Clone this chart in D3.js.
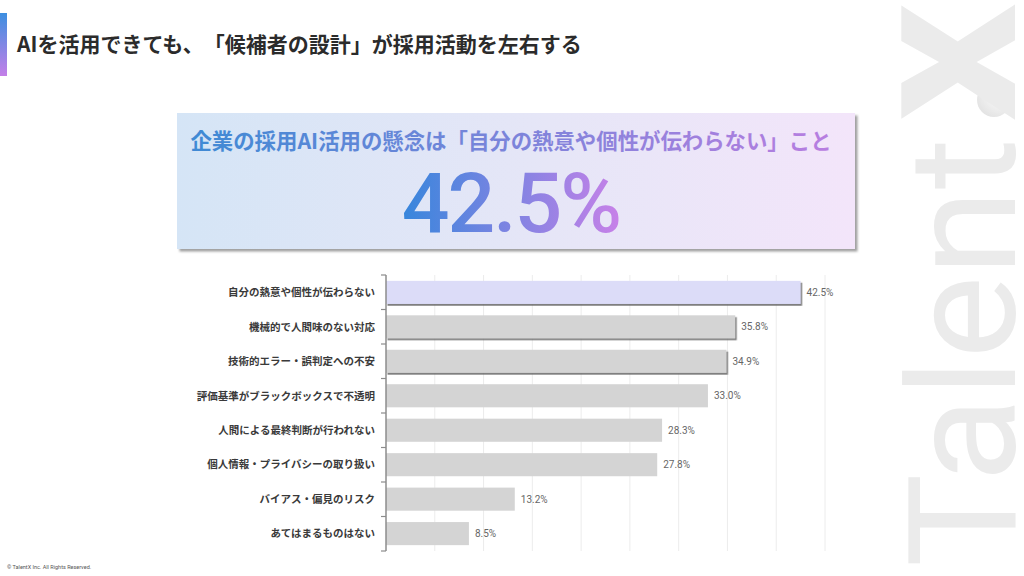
<!DOCTYPE html>
<html>
<head>
<meta charset="utf-8">
<script src="https://cdn.jsdelivr.net/npm/d3@7"></script>
<style>
  html, body { margin: 0; padding: 0; background: #fff; }
  svg { display: block; }
  .jp { font-family: "Noto Sans CJK JP", "Noto Sans", sans-serif; text-spacing-trim: space-all; }
</style>
</head>
<body>
<div id="chart"></div>
<script>
const categories = [
  '自分の熱意や個性が伝わらない',
  '機械的で人間味のない対応',
  '技術的エラー・誤判定への不安',
  '評価基準がブラックボックスで不透明',
  '人間による最終判断が行われない',
  '個人情報・プライバシーの取り扱い',
  'バイアス・偏見のリスク',
  'あてはまるものはない'
]
const values = [42.5, 35.8, 34.9, 33.0, 28.3, 27.8, 13.2, 8.5]
const gridTicks = [5, 10, 15, 20, 25, 30, 35, 40, 45]

const title = 'AIを活用できても、「候補者の設計」が採用活動を左右する'
const headline = '企業の採用AI活用の懸念は「自分の熱意や個性が伝わらない」こと'
const headlineValue = '42.5%'

const W = 1024, H = 576
const svg = d3.select('#chart').append('svg')
  .attr('width', W).attr('height', H)

const defs = svg.append('defs')

const barGrad = defs.append('linearGradient').attr('id', 'sideBar')
  .attr('x1', 0).attr('y1', 0).attr('x2', 0).attr('y2', 1)
barGrad.append('stop').attr('offset', '0%').attr('stop-color', '#3d8fe0')
barGrad.append('stop').attr('offset', '100%').attr('stop-color', '#c47fe8')

const cardGrad = defs.append('linearGradient').attr('id', 'cardBg')
cardGrad.append('stop').attr('offset', '0%').attr('stop-color', '#d5e5f6')
cardGrad.append('stop').attr('offset', '55%').attr('stop-color', '#e6e6f7')
cardGrad.append('stop').attr('offset', '100%').attr('stop-color', '#f3e5fa')

const subGrad = defs.append('linearGradient').attr('id', 'subText')
  .attr('gradientUnits', 'userSpaceOnUse')
  .attr('x1', 190).attr('x2', 832).attr('y1', 0).attr('y2', 0)
subGrad.append('stop').attr('offset', '0%').attr('stop-color', '#3f8ad4')
subGrad.append('stop').attr('offset', '100%').attr('stop-color', '#b87ee0')

const bigGrad = defs.append('linearGradient').attr('id', 'bigText')
  .attr('gradientUnits', 'userSpaceOnUse')
  .attr('x1', 405).attr('x2', 618).attr('y1', 0).attr('y2', 0)
bigGrad.append('stop').attr('offset', '0%').attr('stop-color', '#3986dc')
bigGrad.append('stop').attr('offset', '100%').attr('stop-color', '#c681e8')

const dotGrad = defs.append('radialGradient').attr('id', 'dot')
  .attr('cx', '70%').attr('cy', '30%').attr('r', '80%')
dotGrad.append('stop').attr('offset', '0%').attr('stop-color', '#ffffff')
dotGrad.append('stop').attr('offset', '100%').attr('stop-color', '#e2e2e2')

const cardShadow = defs.append('filter').attr('id', 'cardShadow')
  .attr('x', '-5%').attr('y', '-10%').attr('width', '110%').attr('height', '125%')
cardShadow.append('feDropShadow')
  .attr('dx', 2.5).attr('dy', 2.5).attr('stdDeviation', 1.2)
  .attr('flood-color', '#777').attr('flood-opacity', 0.7)

const barShadow = defs.append('filter').attr('id', 'barShadow')
  .attr('x', '-5%').attr('y', '-20%').attr('width', '110%').attr('height', '150%')
barShadow.append('feDropShadow')
  .attr('dx', 1.5).attr('dy', 1.8).attr('stdDeviation', 0.7)
  .attr('flood-color', '#666').attr('flood-opacity', 0.85)

// watermark
const wm = svg.append('g').attr('fill', '#ebebeb')
wm.append('text')
  .attr('transform', 'translate(1015,567) rotate(-90)')
  .attr('font-family', 'Roboto, "Liberation Sans", sans-serif')
  .attr('font-size', 150)
  .attr('font-weight', 400)
  .attr('textLength', 429)
  .attr('lengthAdjust', 'spacingAndGlyphs')
  .text('Talent')
wm.append('circle').attr('cx', 994).attr('cy', 100).attr('r', 17)
  .attr('fill', 'url(#dot)')
wm.append('text')
  .attr('transform', 'translate(1015,120) rotate(-90)')
  .attr('font-family', 'Roboto, "Liberation Sans", sans-serif')
  .attr('font-size', 160)
  .attr('font-weight', 900)
  .attr('textLength', 116)
  .attr('lengthAdjust', 'spacingAndGlyphs')
  .text('X')

// header
svg.append('rect').attr('x', 0).attr('y', 13).attr('width', 7).attr('height', 63)
  .attr('fill', 'url(#sideBar)')
svg.append('text').attr('class', 'jp')
  .attr('x', 17).attr('y', 52)
  .attr('font-size', 21).attr('font-weight', 700)
  .attr('fill', '#2b2b2b')
  .text(title)

// headline card
svg.append('rect')
  .attr('x', 177).attr('y', 113).attr('width', 678).attr('height', 136)
  .attr('fill', 'url(#cardBg)')
  .attr('filter', 'url(#cardShadow)')
svg.append('text').attr('class', 'jp')
  .attr('x', 511).attr('y', 149)
  .attr('text-anchor', 'middle')
  .attr('font-size', 21.4).attr('font-weight', 700)
  .attr('fill', 'url(#subText)')
  .text(headline)
svg.append('text')
  .attr('x', 511).attr('y', 232)
  .attr('text-anchor', 'middle')
  .attr('font-family', 'Roboto, "Noto Sans", sans-serif')
  .attr('font-size', 84).attr('font-weight', 500)
  .attr('letter-spacing', -2)
  .attr('fill', 'url(#bigText)')
  .text(headlineValue)

// bar chart
const x = d3.scaleLinear().domain([0, 45]).range([386, 825])
const y = d3.scaleBand().domain(categories).range([275, 551]).paddingInner(0.33).paddingOuter(0.17)
const band = d3.scaleBand().domain(categories).range([275, 551])

const chart = svg.append('g')

chart.append('g').selectAll('line')
  .data(gridTicks)
  .join('line')
  .attr('x1', d => x(d)).attr('x2', d => x(d))
  .attr('y1', 275).attr('y2', 551)
  .attr('stroke', '#ececec').attr('stroke-width', 1)

chart.append('g').selectAll('rect')
  .data(categories)
  .join('rect')
  .attr('x', x(0))
  .attr('y', d => y(d))
  .attr('width', (d, i) => x(values[i]) - x(0))
  .attr('height', y.bandwidth())
  .attr('fill', (d, i) => i === 0 ? '#dcdcf8' : '#d4d4d4')
  .attr('filter', (d, i) => i < 3 ? 'url(#barShadow)' : null)

chart.append('g').selectAll('text')
  .data(categories)
  .join('text')
  .attr('x', (d, i) => x(values[i]) + 6)
  .attr('y', d => y(d) + y.bandwidth() / 2)
  .attr('dy', '0.35em')
  .attr('font-family', 'Roboto, "Liberation Sans", sans-serif')
  .attr('font-size', 10)
  .attr('fill', '#666')
  .text((d, i) => values[i].toFixed(1) + '%')

// axis with ticks at band boundaries
const axisG = chart.append('g')
axisG.append('line')
  .attr('x1', x(0)).attr('x2', x(0))
  .attr('y1', 275).attr('y2', 551)
  .attr('stroke', '#8c8c8c').attr('stroke-width', 1.5)
axisG.selectAll('.tk')
  .data(categories.concat(['__end']))
  .join('line')
  .attr('class', 'tk')
  .attr('x1', x(0) - 5).attr('x2', x(0))
  .attr('y1', (d, i) => i < categories.length ? band(d) : 551)
  .attr('y2', (d, i) => i < categories.length ? band(d) : 551)
  .attr('stroke', '#8c8c8c').attr('stroke-width', 1.2)

axisG.selectAll('.lbl')
  .data(categories)
  .join('text')
  .attr('class', 'lbl jp')
  .attr('x', 375)
  .attr('y', d => y(d) + y.bandwidth() / 2)
  .attr('dy', '0.36em')
  .attr('text-anchor', 'end')
  .attr('font-size', 10.5).attr('font-weight', 700)
  .attr('fill', '#3a3a3a')
  .text(d => d)

// footer
svg.append('text')
  .attr('x', 7).attr('y', 569)
  .attr('font-family', 'Roboto, "Liberation Sans", sans-serif')
  .attr('font-size', 5.5)
  .attr('fill', '#555')
  .text('© TalentX Inc. All Rights Reserved.')
</script>
</body>
</html>
